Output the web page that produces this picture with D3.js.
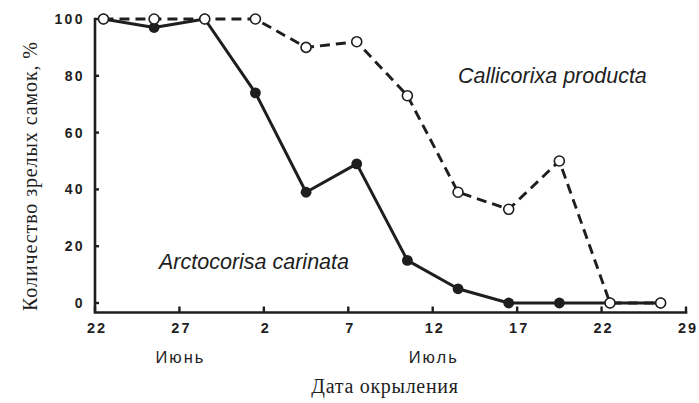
<!DOCTYPE html>
<html>
<head>
<meta charset="utf-8">
<script src="https://cdn.jsdelivr.net/npm/d3@7"></script>
<style>
  html, body { margin: 0; padding: 0; background: #fff; }
  svg { display: block; }
</style>
</head>
<body>
<svg id="chart" width="699" height="403"></svg>
<script>
// Sampling days, counted from 22 June
const days = [0, 3, 6, 9, 12, 15, 18, 21, 24, 27, 30, 33];
// Share of mature females, %
const arctocorisa = [100, 97, 100, 74, 39, 49, 15, 5, 0, 0, 0, 0];
const callicorixa = [100, 100, 100, 100, 90, 92, 73, 39, 33, 50, 0, 0];
// Axis ticks
const xTickDays = [0, 5, 10, 15, 20, 25, 30, 35];
const xTickLabels = ["22", "27", "2", "7", "12", "17", "22", "29"];
const yTicks = [0, 20, 40, 60, 80, 100];
const months = [{ label: "Июнь", day: 5 }, { label: "Июль", day: 20 }];

const ink = "#1e1e1e";
const svg = d3.select("#chart");

const x = d3.scaleLinear().domain([0, 35]).range([95, 686]);
const y = d3.scaleLinear().domain([0, 100]).range([303, 19]);
const axisY = 312.5;

// Axes lines
const axes = svg.append("g").attr("stroke", ink).attr("stroke-width", 2.6).attr("fill", "none");
axes.append("path").attr("d", `M${x(0)},${y(100)} V${axisY} H${x(35)}`).attr("stroke-linecap", "square");

// Y ticks (inward) and labels
const yAxis = svg.append("g");
yAxis.selectAll("line").data(yTicks).join("line")
  .attr("x1", x(0)).attr("x2", x(0) + 4)
  .attr("y1", d => y(d)).attr("y2", d => y(d))
  .attr("stroke", ink).attr("stroke-width", 2.4);
yAxis.selectAll("text").data(yTicks).join("text")
  .attr("x", 85).attr("y", d => y(d)).attr("dy", "0.36em")
  .attr("text-anchor", "end")
  .style("font", "bold 14px 'Liberation Sans', Arial, sans-serif")
  .style("letter-spacing", "2.4px")
  .attr("fill", ink)
  .text(d => d);

// X ticks (inward) and labels
const xAxis = svg.append("g");
xAxis.selectAll("line").data(xTickDays).join("line")
  .attr("x1", d => x(d)).attr("x2", d => x(d))
  .attr("y1", axisY).attr("y2", axisY - 6)
  .attr("stroke", ink).attr("stroke-width", 2.4);
xAxis.selectAll("text").data(xTickDays).join("text")
  .attr("x", d => x(d) + 2).attr("y", 333)
  .attr("text-anchor", "middle")
  .style("font", "bold 14.5px 'Liberation Sans', Arial, sans-serif")
  .style("letter-spacing", "2px")
  .attr("fill", ink)
  .text((d, i) => xTickLabels[i]);

// Month names
svg.append("g").selectAll("text").data(months).join("text")
  .attr("x", d => x(d.day) + 1).attr("y", 363)
  .attr("text-anchor", "middle")
  .style("font", "16.5px 'Liberation Sans', Arial, sans-serif")
  .style("letter-spacing", "2px")
  .attr("fill", ink)
  .text(d => d.label);

// Axis titles
svg.append("text")
  .attr("x", 385).attr("y", 393)
  .attr("text-anchor", "middle")
  .style("font", "20px 'Liberation Serif', 'Times New Roman', serif")
  .style("letter-spacing", "0.7px")
  .attr("fill", ink)
  .text("Дата окрыления");
svg.append("text")
  .attr("transform", "translate(37,176) rotate(-90)")
  .attr("text-anchor", "middle")
  .style("font", "20px 'Liberation Serif', 'Times New Roman', serif")
  .style("letter-spacing", "0.9px")
  .attr("fill", ink)
  .text("Количество зрелых самок, %");

// Series
const line = d3.line().x(d => x(d[0] + 0.5)).y(d => y(d[1]));
const arcPts = days.map((d, i) => [d, arctocorisa[i]]);
const calPts = days.map((d, i) => [d, callicorixa[i]]);

svg.append("path").datum(arcPts).attr("d", line)
  .attr("fill", "none").attr("stroke", ink).attr("stroke-width", 3)
  .attr("stroke-linejoin", "round");
svg.append("g").selectAll("circle").data(arcPts).join("circle")
  .attr("cx", d => x(d[0] + 0.5)).attr("cy", d => y(d[1])).attr("r", 5.4)
  .attr("fill", ink);

svg.append("path").datum(calPts).attr("d", line)
  .attr("fill", "none").attr("stroke", ink).attr("stroke-width", 2.9)
  .attr("stroke-dasharray", "10,6");
svg.append("g").selectAll("circle").data(calPts).join("circle")
  .attr("cx", d => x(d[0] + 0.5)).attr("cy", d => y(d[1])).attr("r", 5)
  .attr("fill", "#fff").attr("stroke", ink).attr("stroke-width", 1.6);

// Species names
svg.append("text")
  .attr("x", 458).attr("y", 83)
  .style("font", "italic 21.5px 'Liberation Sans', Arial, sans-serif")
  .attr("fill", ink)
  .text("Callicorixa producta");
svg.append("text")
  .attr("x", 159).attr("y", 269)
  .style("font", "italic 21.5px 'Liberation Sans', Arial, sans-serif")
  .attr("fill", ink)
  .text("Arctocorisa carinata");
</script>
</body>
</html>
